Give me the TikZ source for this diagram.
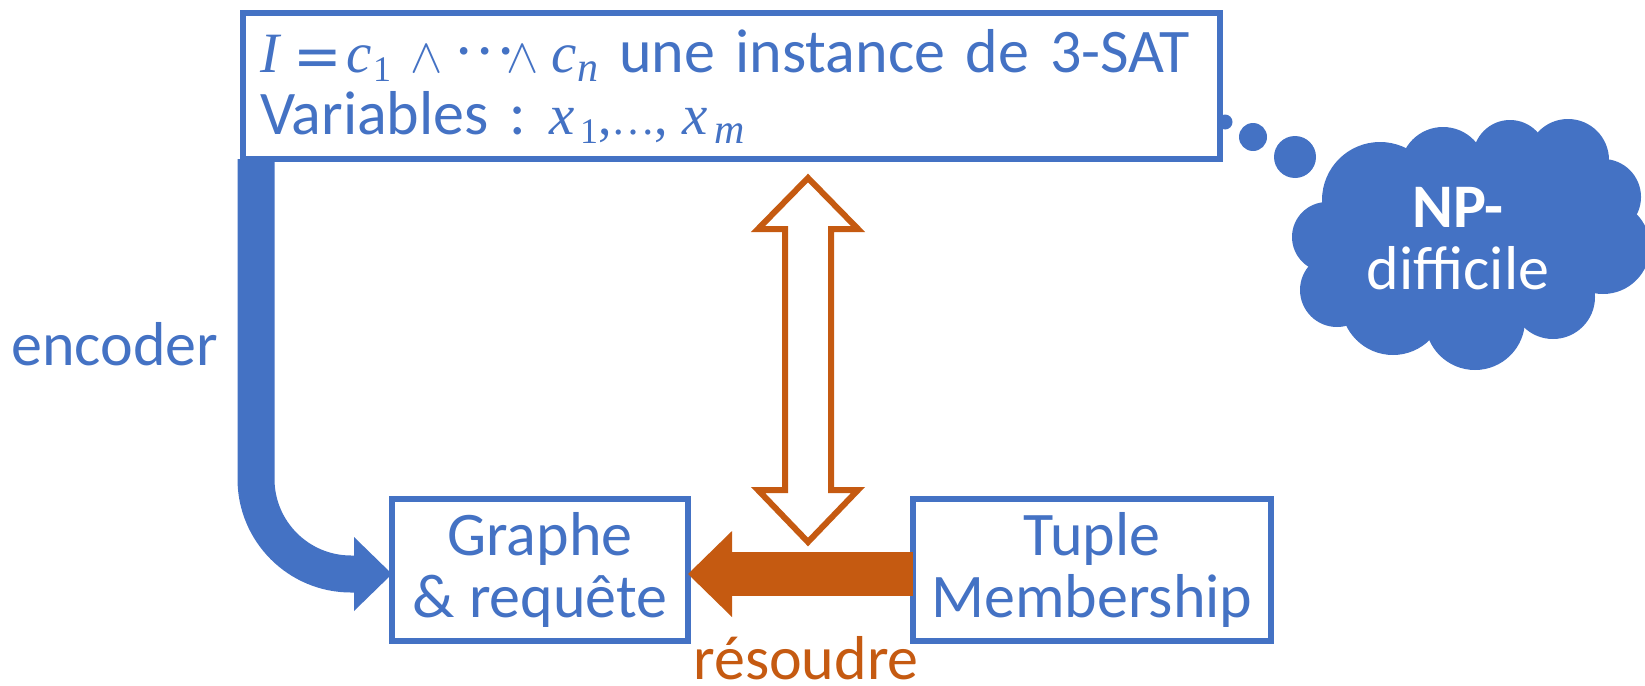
\RequirePackage{fix-cm}
\documentclass[tikz,border=0pt]{standalone}
\usepackage{graphicx}
\usepackage{fontspec}
\setmainfont{Carlito}
\newfontfamily\serifface{Liberation Serif}
\newfontfamily\symface{DejaVu Sans}
\usetikzlibrary{arrows.meta}
\definecolor{accblue}{HTML}{4472C4}
\definecolor{accorange}{HTML}{C55A11}
% pieces of the formula, each set at a fixed offset from the line start
\newcommand\placeat[2]{\makebox[0pt][l]{\hspace*{#1pt}#2}}
\newcommand\mvar[1]{{\serifface\itshape\fontsize{57}{62}\selectfont #1}}
\newcommand\mpunct[1]{{\serifface\fontsize{54}{62}\selectfont #1}}
\newcommand\msubnum[1]{\raisebox{-9pt}{\serifface\fontsize{36}{40}\selectfont #1}}
\newcommand\msubvar[1]{\raisebox{-9pt}{\serifface\itshape\fontsize{42}{42}\selectfont #1}}
\newcommand\mequal{\raisebox{-4pt}{\symface\fontsize{58}{58}\selectfont =}}
\newcommand\mand{\scalebox{0.78}{$\wedge$}}
\newcommand\mdots{{\serifface\fontsize{64}{64}\selectfont ···}}
\tikzset{
  bigtext/.style={font=\fontsize{62}{62}\selectfont},
  framebox/.style={draw=accblue, line width=6pt, fill=white, text=accblue,
    outer sep=0pt, inner sep=0pt, bigtext},
  encodearrow/.style={draw=accblue, line width=37pt, rounded corners=95pt,
    -{Triangle[length=38pt,width=74pt,line width=0pt]}},
  solvearrow/.style={draw=accorange, line width=44pt,
    -{Triangle[length=44pt,width=86pt,line width=0pt]}},
  hollowarrow/.style={draw=accorange, line width=6pt, fill=white, line join=miter},
  bubble/.style={fill=accblue},
  label/.style={bigtext, inner sep=0pt},
}
\begin{document}
\begin{tikzpicture}[x=1pt,y=-1pt]
\useasboundingbox (0,0) rectangle (1645,685);
\clip (0,0) rectangle (1645,685);

% thought bubbles leading to the cloud
\fill[bubble] (1225,122) circle[radius=7.5];
\fill[bubble] (1253,137) circle[radius=14];
\fill[bubble] (1295,157) circle[radius=21];

% cloud built from overlapping lobes
\fill[bubble] (1467,240) ellipse[x radius=130, y radius=75];
\fill[bubble] (1380,200) circle[radius=58];
\fill[bubble] (1443,170) circle[radius=43];
\fill[bubble] (1510,157) circle[radius=37];
\fill[bubble] (1568,160) circle[radius=41];
\fill[bubble] (1603,197) circle[radius=38];
\fill[bubble] (1603,247) circle[radius=47];
\fill[bubble] (1553,297) circle[radius=42];
\fill[bubble] (1475,320) circle[radius=50];
\fill[bubble] (1393,303) circle[radius=52];
\fill[bubble] (1337,290) circle[radius=37];
\fill[bubble] (1327,237) circle[radius=35];
\node[label, text=white, align=center] (np) at (1458,239) {\textbf{NP-}\\difficile};

% boxes
\node[framebox, align=left, text width=943pt, inner xsep=17pt,
      minimum width=977pt, minimum height=146pt] (sat) at (731.5,86)
  {\placeat{0}{\mvar{I}}%
   \placeat{33}{\mequal}%
   \placeat{86}{\mvar{c}}\placeat{113}{\msubnum{1}}%
   \placeat{150}{\mand}%
   \placeat{193}{\mdots}%
   \placeat{246}{\mand}%
   \placeat{291}{\mvar{c}}\placeat{317}{\msubvar{n}}%
   \hspace*{359pt}une instance de 3-SAT\\
   \placeat{0}{Variables :}%
   \placeat{289}{\mvar{x}}\placeat{320}{\msubnum{1}}%
   \placeat{338}{\mpunct{,}}%
   \placeat{351}{{\serifface\fontsize{44}{44}\selectfont …}}%
   \placeat{394}{\mpunct{,}}%
   \placeat{422}{\mvar{x}}\placeat{454}{\msubvar{m}}};
\node[framebox, align=center, minimum width=296pt, minimum height=142pt]
  (graph) at (540,570) {Graphe\\\& requête};
\node[framebox, align=center, minimum width=358pt, minimum height=142pt]
  (tuple) at (1092,570) {Tuple\\Membership};

% encoding arrow
\draw[encodearrow] ([xshift=13pt]sat.south west) |- ([yshift=-4pt]graph.west);
\node[label, text=accblue, anchor=base west] (enc) at (11,365) {encoder};

% solving arrow
\draw[solvearrow] ([yshift=-4pt]tuple.west) -- ([yshift=-4pt]graph.east);
\node[label, text=accorange, anchor=base] (res) at (806,679) {résoudre};

% equivalence arrow
\draw[hollowarrow] (808,178) -- (858,229) -- (831,229) -- (831,490) -- (858,490)
  -- (808,542) -- (758,490) -- (785,490) -- (785,229) -- (758,229) -- cycle;
\end{tikzpicture}
\end{document}
